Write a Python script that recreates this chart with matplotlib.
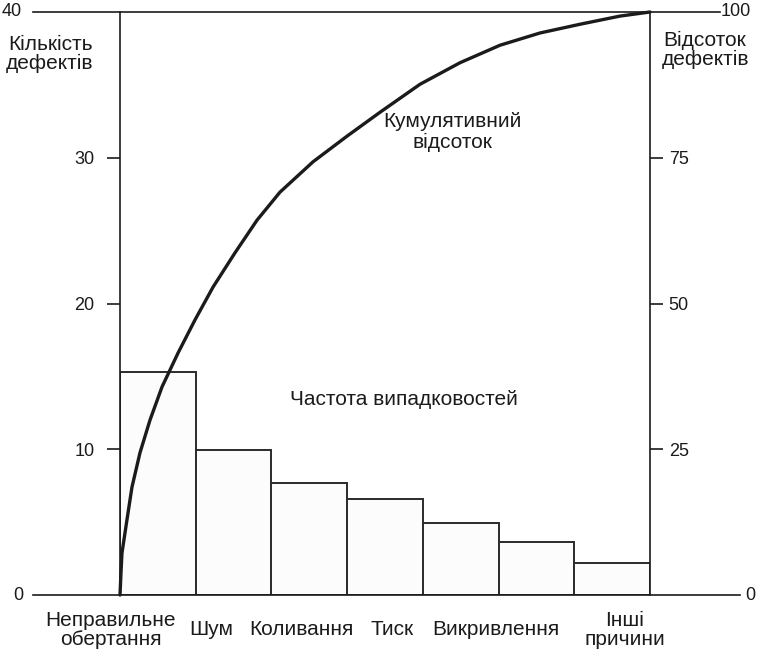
import matplotlib
matplotlib.use("Agg")
import matplotlib.pyplot as plt

plt.rcParams["font.family"] = ["Liberation Sans", "DejaVu Sans"]

# data
causes = ["Неправильне\nобертання", "Шум", "Коливання", "Тиск",
          "Викривлення", "Інші\nпричини"]
counts = [15.3, 9.95, 7.7, 6.6, 4.95, 3.65, 2.2]

# cumulative percent curve, read at points along the drawn line
curve_x = [0.0, 0.013, 0.026, 0.092, 0.158, 0.264, 0.396, 0.555, 0.766,
           0.991, 1.228, 1.519, 1.810, 2.113, 2.549, 2.998, 3.434, 3.962,
           4.491, 5.019, 5.547, 6.076, 6.604, 7.0]
curve_pct = [0.0, 3.8, 7.2, 12.9, 18.5, 24.4, 30.0, 35.7, 41.5,
             47.2, 52.8, 58.7, 64.3, 69.1, 74.3, 78.7, 82.8, 87.6,
             91.3, 94.3, 96.4, 97.9, 99.3, 100.0]

left_ticks = [10, 20, 30]
right_ticks = [25, 50, 75]

# label x positions (in bar units) - labels are not centred on bars
label_x = [-0.12, 1.20, 2.40, 3.59, 4.97, 6.67]

ink = "#1c1a1a"
fs = 15

fig = plt.figure(figsize=(7.61, 6.57), dpi=100)
ax = fig.add_axes([120 / 761, 62 / 657, 530 / 761, 583 / 657])
ax2 = ax.twinx()

# bars
xs = [i + 0.5 for i in range(len(counts))]
ax.bar(xs, counts, width=1.0, facecolor="#fcfcfc", edgecolor="#2b2b2b",
       linewidth=1.4, zorder=2)
ax.set_xlim(0, 7)
ax.set_ylim(0, 40)
ax2.set_ylim(0, 100)

# cumulative curve
ax2.plot(curve_x, curve_pct, color=ink, lw=2.4, solid_capstyle="round",
         solid_joinstyle="round", clip_on=False, zorder=3)

for a in (ax, ax2):
    for s in ("top", "bottom"):
        a.spines[s].set_visible(False)
    a.spines["left"].set_color(ink)
    a.spines["right"].set_color(ink)
    a.spines["left"].set_linewidth(1.2)
    a.spines["right"].set_linewidth(1.2)
    a.set_xticks([])
ax.spines["right"].set_visible(False)
ax2.spines["left"].set_visible(False)

ax.set_yticks(left_ticks)
ax.set_yticklabels([str(v) for v in left_ticks])
ax.tick_params(axis="y", direction="out", length=9.5, width=1.2, color=ink,
               pad=9, labelsize=13, labelcolor=ink)
ax2.set_yticks(right_ticks)
ax2.set_yticklabels([str(v) for v in right_ticks])
ax2.tick_params(axis="y", direction="out", length=9.5, width=1.2, color=ink,
                pad=4, labelsize=13, labelcolor=ink)

# long top and bottom rules, extending beyond the axes
tr = ax.transAxes
ax.plot([-87 / 530, 600 / 530], [1, 1], color=ink, lw=1.2, clip_on=False,
        transform=tr)
ax.plot([-87 / 530, 620 / 530], [0, 0], color=ink, lw=1.2, clip_on=False,
        transform=tr)

# end labels
fig.text(12 / 761, 1 - 12 / 657, "40", ha="center", va="center", fontsize=13, color=ink)
fig.text(18 / 761, 1 - 595 / 657, "0", ha="center", va="center", fontsize=13, color=ink)
fig.text(736 / 761, 1 - 12 / 657, "100", ha="center", va="center", fontsize=13, color=ink)
fig.text(750 / 761, 1 - 595 / 657, "0", ha="center", va="center", fontsize=13, color=ink)

# axis titles
fig.text(50 / 761, 1 - 54 / 657, "Кількість\nдефектів", ha="center",
         va="center", fontsize=fs, color=ink, linespacing=1.0)
fig.text(705 / 761, 1 - 50 / 657, "Відсоток\nдефектів", ha="center",
         va="center", fontsize=fs, color=ink, linespacing=1.0)

# in-plot annotations
ax2.text(4.39, 79.4, "Кумулятивний\nвідсоток", ha="center", va="center",
         fontsize=fs, color=ink, linespacing=1.1)
ax.text(3.75, 13.4, "Частота випадковостей", ha="center", va="center",
        fontsize=fs, color=ink)

# category labels under the bars
for x, lab in zip(label_x, causes):
    ax.text(x, -2.4, lab, ha="center", va="center", fontsize=fs,
            color=ink, linespacing=1.0, clip_on=False)

fig.savefig("out.png", dpi=100)
